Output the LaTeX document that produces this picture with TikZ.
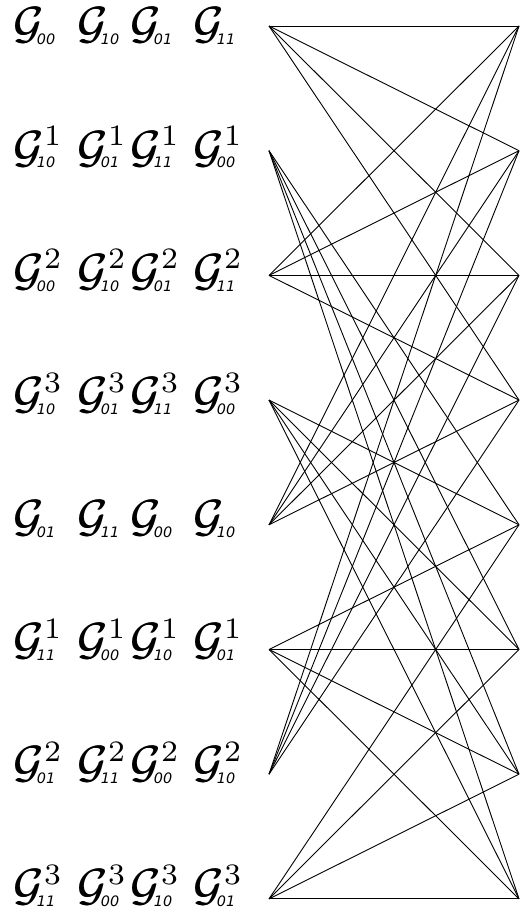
\documentclass[tikz,border=0pt]{standalone}
\usepackage{fontspec}
\newfontfamily\subfont{DejaVu Sans}
% a slightly heavier calligraphic G
\newcommand{\heavyG}{\rlap{$\mathcal{G}$}\kern0.22pt$\mathcal{G}$}
% G with superscript #1 and subscript #2, placed by hand
\newcommand{\glab}[2]{%
  \rlap{\heavyG}%
  \rlap{\hspace{5.1pt}\raisebox{-1.3pt}{\subfont\itshape\fontsize{3.2}{3.5}\selectfont #2}}%
  \hspace{6.7pt}\raisebox{3.6pt}{\fontsize{6.6}{7}\selectfont #1}}
\tikzset{
  glabel/.style={anchor=base west, inner sep=0pt, scale=4.5},
  edge/.style={line width=0.9pt, black}
}
\begin{document}
\begin{tikzpicture}[x=1pt,y=-1pt]
\useasboundingbox (0,0) rectangle (526,920);
\foreach \k in {0,...,7}{
  \coordinate (L\k) at (269,{26+124.7*\k});
  \coordinate (R\k) at (519,{26+124.7*\k});
}
\foreach \k/\s/\a/\b/\c/\d in {
  0//00/10/01/11,
  1/1/10/01/11/00,
  2/2/00/10/01/11,
  3/3/10/01/11/00,
  4//01/11/00/10,
  5/1/11/00/10/01,
  6/2/01/11/00/10,
  7/3/11/00/10/01}{
  \node[glabel] (g\k a) at (13,{39+123.1*\k}) {\glab{\s}{\a}};
  \node[glabel] (g\k b) at (77,{39+123.1*\k}) {\glab{\s}{\b}};
  \node[glabel] (g\k c) at (130,{39+123.1*\k}) {\glab{\s}{\c}};
  \node[glabel] (g\k d) at (193,{39+123.1*\k}) {\glab{\s}{\d}};
}
\foreach \i in {0,2,4,6}{
  \foreach \j in {0,1,2,3}{
    \draw[edge] (L\i) -- (R\j);
  }
}
\foreach \i in {1,3,5,7}{
  \foreach \j in {4,5,6,7}{
    \draw[edge] (L\i) -- (R\j);
  }
}
\end{tikzpicture}
\end{document}
